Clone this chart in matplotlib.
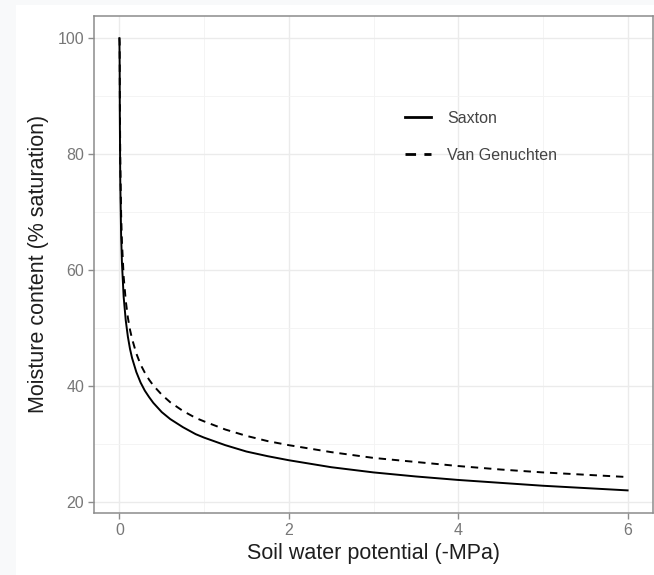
import matplotlib
matplotlib.use("Agg")
import matplotlib.pyplot as plt
from matplotlib.patches import Rectangle
from matplotlib.ticker import MultipleLocator

plt.rcParams["font.family"] = ["Liberation Sans", "DejaVu Sans"]

# Values
potential = [0, 0.003, 0.005, 0.01, 0.02, 0.03, 0.05, 0.075, 0.1, 0.125,
             0.15, 0.2, 0.25, 0.3, 0.35, 0.4, 0.5, 0.6, 0.75, 0.9,
             1, 1.25, 1.5, 1.75, 2, 2.5, 3, 3.5, 4, 4.5,
             5, 5.5, 6]
saxton = [100, 95.4, 86.4, 75.6, 66.1, 61.2, 55.4, 51.3, 48.5, 46.4,
          44.8, 42.4, 40.6, 39.2, 38.1, 37.1, 35.5, 34.3, 32.9, 31.7,
          31.1, 29.8, 28.7, 27.9, 27.2, 26.0, 25.1, 24.4, 23.8, 23.3,
          22.8, 22.4, 22.0]
van_genuchten = [100, 99.2, 90.2, 79.4, 69.8, 64.8, 58.9, 54.7, 51.8, 49.7,
                 48.1, 45.6, 43.7, 42.3, 41.1, 40.1, 38.5, 37.2, 35.7, 34.5,
                 33.9, 32.5, 31.4, 30.5, 29.8, 28.6, 27.6, 26.9, 26.2, 25.6,
                 25.1, 24.7, 24.3]

fig = plt.figure(figsize=(6.54, 5.75), dpi=100, facecolor="#f8f9fa")
fig.patches.append(Rectangle((16 / 654, 0), 1, 1 - 5 / 575, transform=fig.transFigure,
                             facecolor="white", edgecolor="none", zorder=-10))

ax = fig.add_axes([94 / 654, 1 - 513 / 575, (653 - 94) / 654, (513 - 15.5) / 575])
ax.set_facecolor("white")

ax.plot(potential, saxton, color="black", lw=1.4, label="Saxton")
ax.plot(potential, van_genuchten, color="black", lw=1.4, ls=(0, (3.8, 3.0)),
        label="Van Genuchten")

# ggplot-style 5% expansion
lo = min(saxton + van_genuchten)
hi = max(saxton + van_genuchten)
pad = (hi - lo) * 0.05
ax.set_ylim(lo - pad, hi + pad)
ax.set_xlim(-0.3, 6.3)

ax.xaxis.set_major_locator(MultipleLocator(2))
ax.xaxis.set_minor_locator(MultipleLocator(1))
ax.yaxis.set_major_locator(MultipleLocator(20))
ax.yaxis.set_minor_locator(MultipleLocator(10))
ax.grid(which="major", color="#ebebeb", lw=1.0)
ax.grid(which="minor", color="#f3f3f3", lw=0.6)
ax.set_axisbelow(True)

for s in ax.spines.values():
    s.set_color("#8c8c8c")
    s.set_linewidth(1.1)
ax.tick_params(which="major", length=4, width=1, color="#8c8c8c",
               labelcolor="#777777", labelsize=11.5, pad=3)
ax.tick_params(which="minor", length=0)

ax.set_xlabel("Soil water potential (-MPa)", fontsize=15.5, color="#1e1e1e", labelpad=4)
ax.set_ylabel("Moisture content (% saturation)", fontsize=15.5, color="#1e1e1e", labelpad=6)

leg = ax.legend(loc="upper left", bbox_to_anchor=(0.542, 0.825), frameon=False,
                fontsize=11.5, borderpad=0, handlelength=1.6, handletextpad=1.05,
                labelspacing=1.4)
for t in leg.get_texts():
    t.set_color("#444444")
for h in leg.get_lines():
    h.set_linewidth(2.0)

fig.savefig("out.png", dpi=100, facecolor=fig.get_facecolor())
